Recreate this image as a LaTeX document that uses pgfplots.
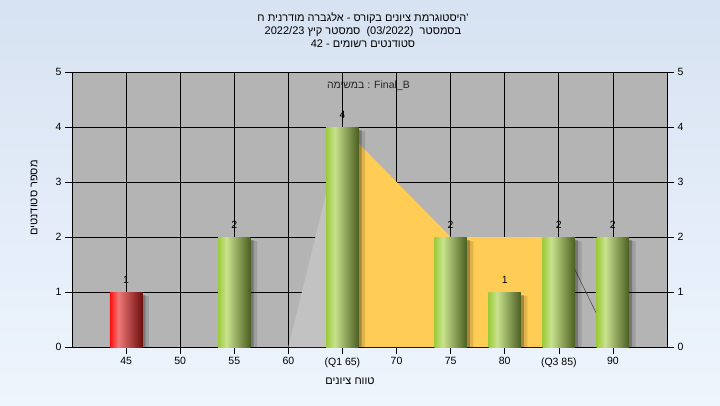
\documentclass[border=0pt]{standalone}
\usepackage{fontspec}
\setmainfont{Liberation Sans}
\newfontfamily\hebfont[Script=Hebrew]{Liberation Sans}
\usepackage{pgfplots}
\pgfplotsset{compat=1.18}
\TeXXeTstate=1

\definecolor{plotbg}{HTML}{B4B4B4}
\definecolor{tri}{HTML}{C2C2C2}
\definecolor{orng}{HTML}{FFCC55}
\definecolor{g1}{HTML}{9CCB3C}
\definecolor{g2}{HTML}{C9E28E}
\definecolor{g3}{HTML}{4A5E20}
\definecolor{r1}{HTML}{FF1010}
\definecolor{r2}{HTML}{F07878}
\definecolor{r3}{HTML}{6E0E0E}
\definecolor{bgtop}{HTML}{D7E2F2}
\definecolor{bgbot}{HTML}{EEF5FD}

\pgfdeclarehorizontalshading{greencyl}{100bp}{color(0bp)=(g1); color(25bp)=(g1); color(38bp)=(g2); color(75bp)=(g3); color(100bp)=(g3)}
\pgfdeclarehorizontalshading{redcyl}{100bp}{color(0bp)=(r1); color(25bp)=(r1); color(38bp)=(r2); color(75bp)=(r3); color(100bp)=(r3)}

\newcommand{\fs}{\fontsize{10.5}{13}\selectfont}
\newcommand{\ft}{\fontsize{11}{13}\selectfont}

\pgfplotsset{
  cyl/.style={ybar, bar width=3, bar shift=0pt, draw=none, shading=#1,
    nodes near coords,
    every node near coord/.append style={font=\fs, text=black, anchor=south, inner sep=0pt, yshift=8.5pt}},
  shd/.style={ybar, bar width=3, bar shift=0pt, fill=black, draw=none},
}

\begin{document}
\begin{tikzpicture}
\shade[top color=bgtop, bottom color=bgbot] (0,0) rectangle (720pt,405pt);

\begin{axis}[
  at={(72pt,58pt)}, anchor=south west,
  scale only axis, width=595pt, height=275pt,
  xmin=40, xmax=95, ymin=0, ymax=5,
  xtick={45,50,55,60,65,70,75,80,85,90},
  xticklabels={45,50,55,60,(Q1 65),70,75,80,(Q3 85),90},
  ytick={0,1,2,3,4,5},
  ytick pos=left, xtick pos=bottom,
  tick align=outside, major tick length=7pt,
  tick style={black, line width=0.6pt},
  tick label style={font=\fs},
  /pgf/number format/assume math mode=true,
  grid=major, major grid style={black, line width=0.7pt},
  axis line style={black, line width=0.7pt},
  axis background/.style={fill=plotbg},
]
% areas
\addplot[fill=tri, draw=none] coordinates {(60,0) (65,4) (65,0) (60,0)};
\addplot[fill=orng, draw=none] coordinates {(65,0) (65,4) (75,2) (85,2) (85,0) (65,0)};
\addplot[draw=black!75, line width=0.5pt] coordinates {(85,2) (90,0)};
% shadows
\addplot[shd, opacity=0.12, xshift=6.5pt, yshift=-4pt]
  coordinates {(45,1) (55,2) (65,4) (75,2) (80,1) (85,2) (90,2)};
\addplot[shd, opacity=0.25, xshift=3pt, yshift=-3pt]
  coordinates {(45,1) (55,2) (65,4) (75,2) (80,1) (85,2) (90,2)};
% bars
\addplot[cyl=redcyl]   coordinates {(45,1)};
\addplot[cyl=greencyl] coordinates {(55,2)};
\addplot[cyl=greencyl] coordinates {(65,4)};
\addplot[cyl=greencyl] coordinates {(75,2)};
\addplot[cyl=greencyl] coordinates {(80,1)};
\addplot[cyl=greencyl] coordinates {(85,2)};
\addplot[cyl=greencyl] coordinates {(90,2)};
\node[font=\fs, text=black!85] at (axis cs:67.4,4.75) {{\hebfont\beginR במשימה\endR} : Final\_B};
\end{axis}

\begin{axis}[
  at={(72pt,58pt)}, anchor=south west,
  scale only axis, width=595pt, height=275pt,
  xmin=40, xmax=95, ymin=0, ymax=5,
  axis x line=none, axis y line*=right,
  ytick={0,1,2,3,4,5},
  tick align=outside, major tick length=7pt,
  tick style={black, line width=0.6pt},
  tick label style={font=\fs},
  /pgf/number format/assume math mode=true,
  axis line style={black, line width=0.7pt},
]
\addplot[draw=none] coordinates {(40,0) (95,5)};
\end{axis}

\node[align=center, font=\ft, text=black] at (363pt,375pt) {%
  {\hebfont\beginR 'היסטוגרמת ציונים בקורס - אלגברה מודרנית ח\endR}\\
  {\hebfont\beginR בסמסטר \ \beginL(03/2022)\endL{} \ סמסטר קיץ \beginL 2022/23\endL{}\endR}\\
  {\hebfont\beginR סטודנטים רשומים - \beginL 42\endL{}\endR}};
\node[font=\ft, text=black] at (350pt,24pt) {\hebfont\beginR טווח ציונים\endR};
\node[font=\ft, text=black, rotate=90] at (34pt,207pt) {\hebfont\beginR מספר סטודנטים\endR};

\pgfresetboundingbox
\useasboundingbox (0,0) rectangle (720pt,405pt);
\end{tikzpicture}
\end{document}
